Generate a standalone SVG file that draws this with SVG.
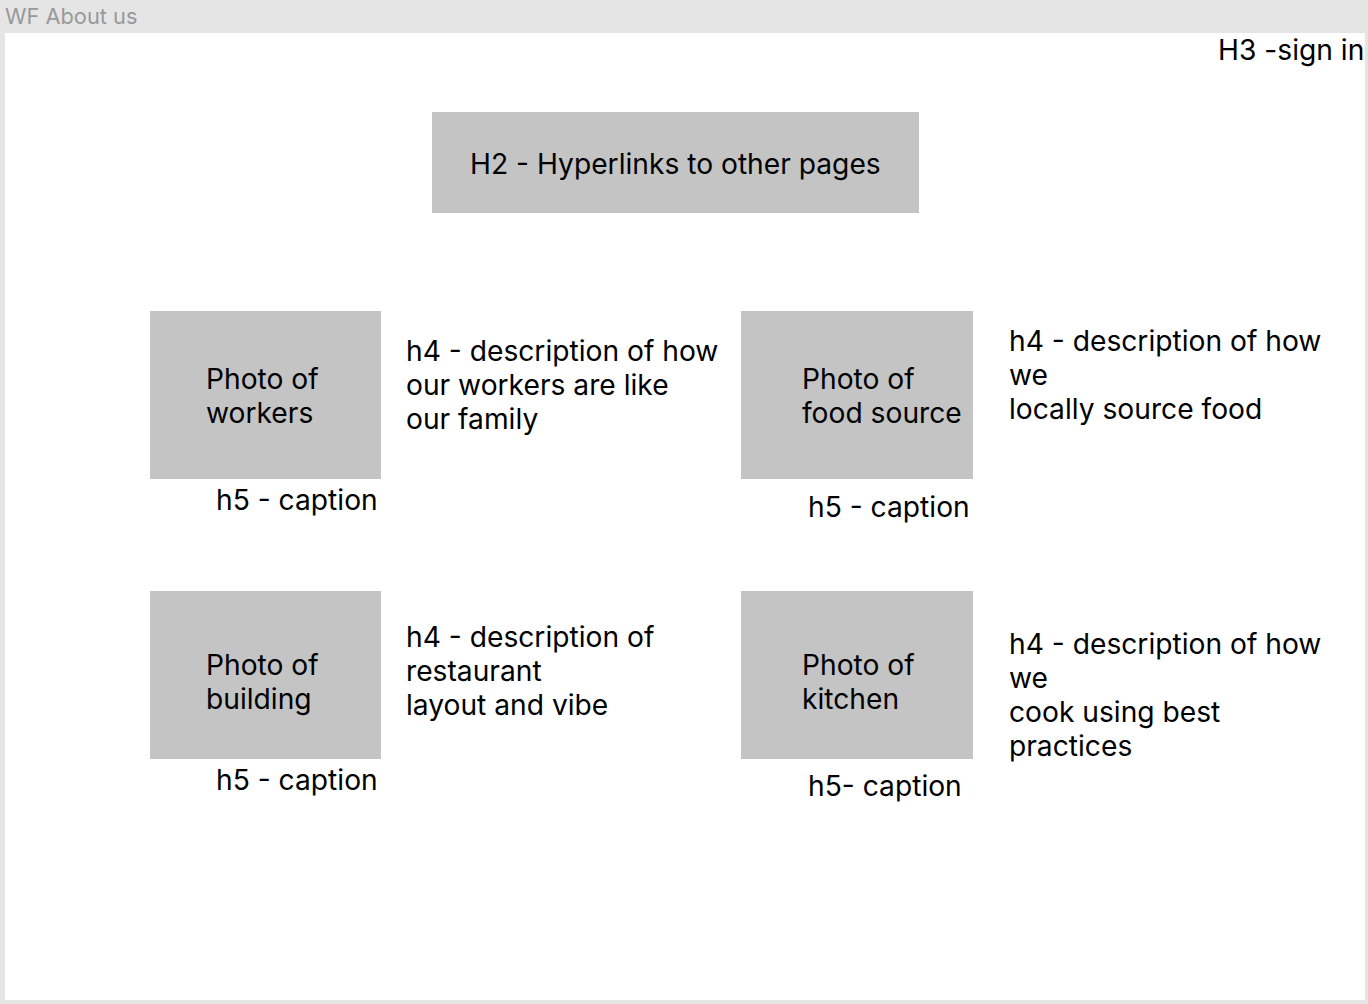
<svg xmlns="http://www.w3.org/2000/svg" width="1368" height="1004" viewBox="0 0 1368 1004">
<style>
.t{font-family:Inter,"Noto Sans",sans-serif;font-size:28.2px;fill:#000}
.box{fill:#c4c4c4}
</style>
<rect x="0" y="0" width="1368" height="1004" fill="#e5e5e5"/>
<rect x="5" y="33" width="1360" height="967" fill="#ffffff"/>
<text x="5" y="24" style="font-family:Inter,'Noto Sans',sans-serif;font-size:21.8px;fill:#999999">WF About us</text>
<g id="signin"><text class="t" x="1218" y="60">H3 -sign in</text></g>
<g id="nav">
<rect class="box" x="432" y="112" width="487" height="101"/>
<text class="t" x="470" y="174">H2 - Hyperlinks to other pages</text>
</g>
<g id="workers">
<rect class="box" x="150" y="311" width="231" height="168"/>
<text class="t" x="206" y="389">Photo of</text>
<text class="t" x="206" y="423">workers</text>
<text class="t" x="216" y="510">h5 - caption</text>
</g>
<g id="workers-desc">
<text class="t" x="406" y="361">h4 - description of how</text>
<text class="t" x="406" y="395">our workers are like</text>
<text class="t" x="406" y="429">our family</text>
</g>
<g id="food">
<rect class="box" x="741" y="311" width="232" height="168"/>
<text class="t" x="802" y="389">Photo of</text>
<text class="t" x="802" y="423">food source</text>
<text class="t" x="808" y="517">h5 - caption</text>
</g>
<g id="food-desc">
<text class="t" x="1009" y="351">h4 - description of how</text>
<text class="t" x="1009" y="385">we</text>
<text class="t" x="1009" y="419">locally source food</text>
</g>
<g id="building">
<rect class="box" x="150" y="591" width="231" height="168"/>
<text class="t" x="206" y="675">Photo of</text>
<text class="t" x="206" y="709">building</text>
<text class="t" x="216" y="790">h5 - caption</text>
</g>
<g id="building-desc">
<text class="t" x="406" y="647">h4 - description of</text>
<text class="t" x="406" y="681">restaurant</text>
<text class="t" x="406" y="715">layout and vibe</text>
</g>
<g id="kitchen">
<rect class="box" x="741" y="591" width="232" height="168"/>
<text class="t" x="802" y="675">Photo of</text>
<text class="t" x="802" y="709">kitchen</text>
<text class="t" x="808" y="796">h5- caption</text>
</g>
<g id="kitchen-desc">
<text class="t" x="1009" y="654">h4 - description of how</text>
<text class="t" x="1009" y="688">we</text>
<text class="t" x="1009" y="722">cook using best</text>
<text class="t" x="1009" y="756">practices</text>
</g>
<g id="connectors"></g>
</svg>
